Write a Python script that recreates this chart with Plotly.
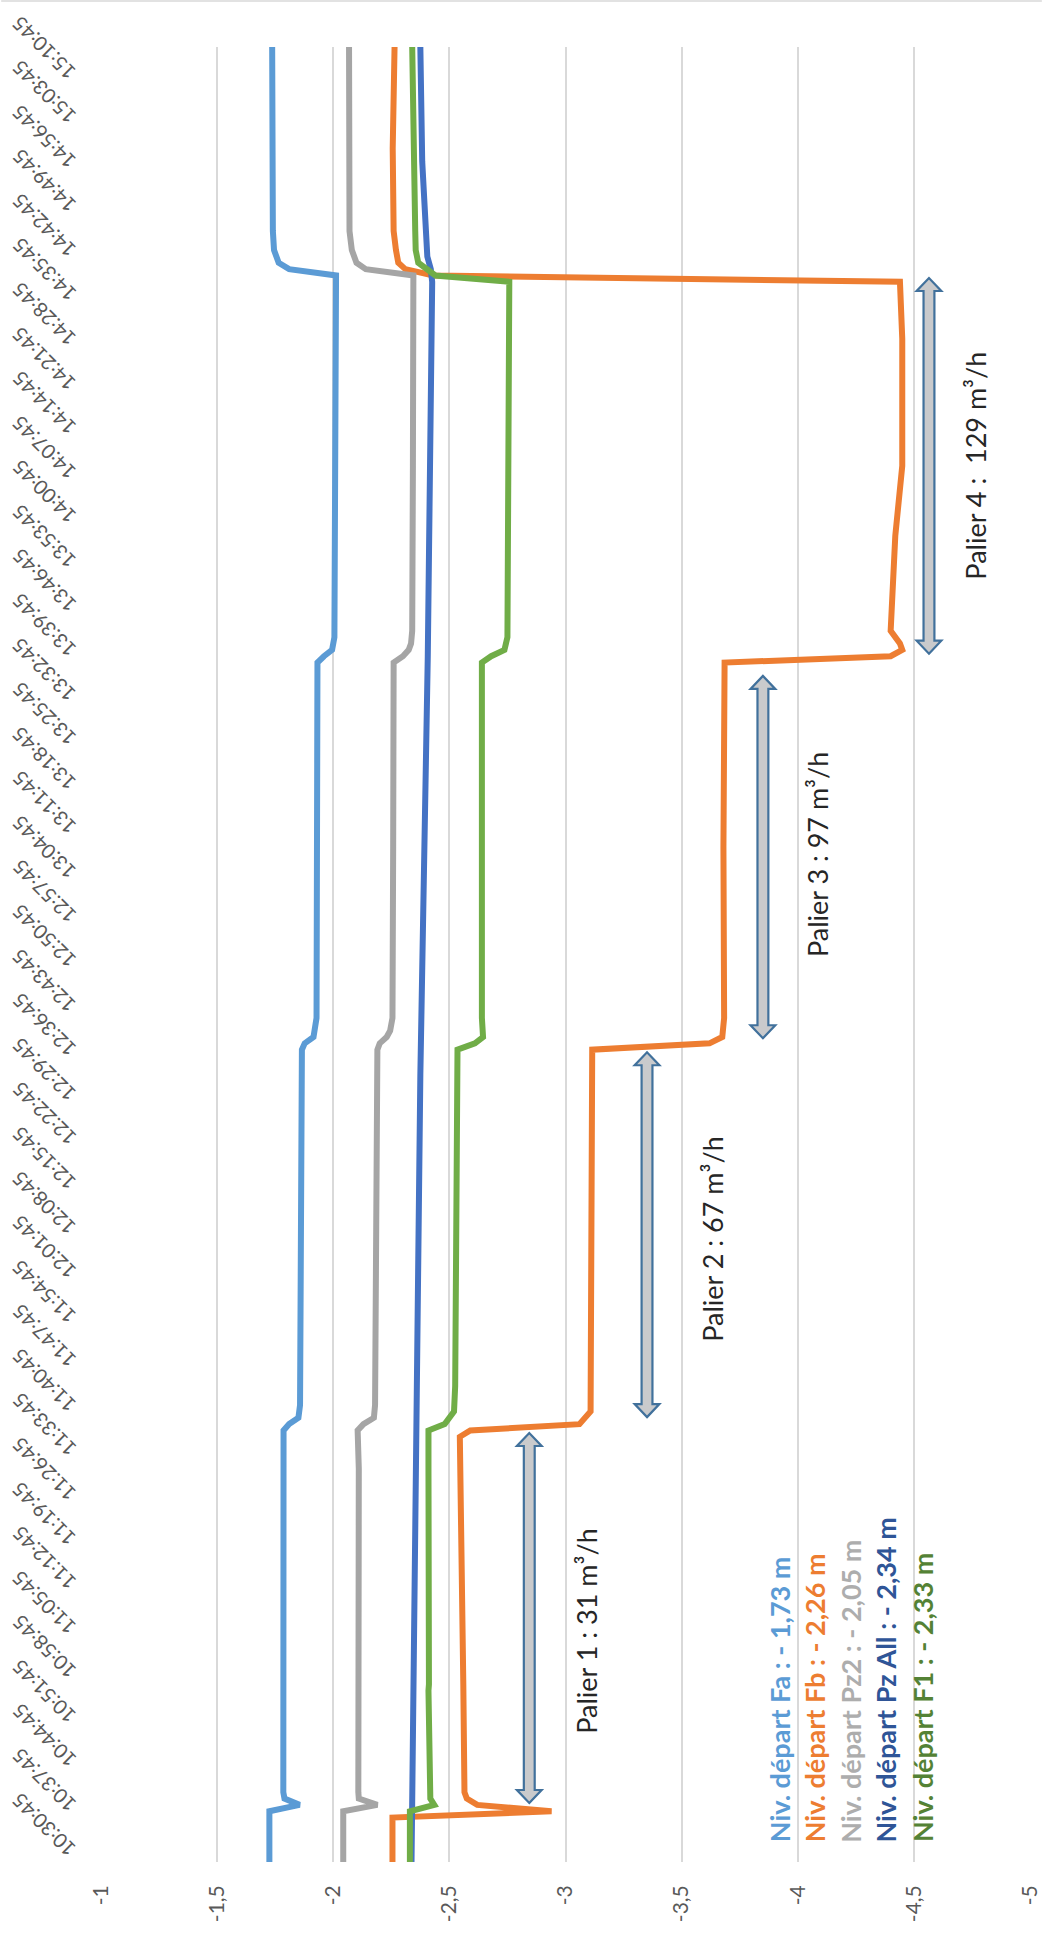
import plotly.graph_objects as go

# ---------------- data ----------------
time_ticks = ["10:30:45", "10:37:45", "10:44:45", "10:51:45", "10:58:45", "11:05:45", "11:12:45",
              "11:19:45", "11:26:45", "11:33:45", "11:40:45", "11:47:45", "11:54:45", "12:01:45",
              "12:08:45", "12:15:45", "12:22:45", "12:29:45", "12:36:45", "12:43:45", "12:50:45",
              "12:57:45", "13:04:45", "13:11:45", "13:18:45", "13:25:45", "13:32:45", "13:39:45",
              "13:46:45", "13:53:45", "14:00:45", "14:07:45", "14:14:45", "14:21:45", "14:28:45",
              "14:35:45", "14:42:45", "14:49:45", "14:56:45", "15:03:45", "15:10:45"]
time_end = "15:16:45"

level_ticks = [-1, -1.5, -2, -2.5, -3, -3.5, -4, -4.5, -5]
level_tick_text = ["-1", "-1,5", "-2", "-2,5", "-3", "-3,5", "-4", "-4,5", "-5"]

fa_time = ["10:30:45", "10:38:45", "10:39:45", "10:40:45", "10:41:45", "11:10:45", "11:32:45",
           "11:38:45", "11:39:45", "11:40:45", "11:42:45", "12:10:45", "12:34:45", "12:38:45",
           "12:39:45", "12:40:45", "12:43:45", "13:10:45", "13:39:45", "13:40:45", "13:41:45",
           "13:43:45", "14:10:45", "14:40:45", "14:41:45", "14:42:45", "14:44:45", "14:47:45",
           "15:16:45"]
fa_level = [-1.725, -1.725, -1.855, -1.79, -1.785, -1.783, -1.784,
            -1.786, -1.81, -1.85, -1.857, -1.862, -1.864, -1.865,
            -1.877, -1.915, -1.928, -1.93, -1.932, -1.96, -1.995,
            -2.005, -2.008, -2.012, -1.81, -1.765, -1.745, -1.74,
            -1.737]

fb_time = ["10:30:45", "10:37:45", "10:38:45", "10:39:45", "10:40:45", "10:41:45", "10:58:45",
           "11:32:45", "11:37:45", "11:38:45", "11:39:45", "11:41:45", "12:10:45", "12:38:45",
           "12:39:45", "12:40:45", "12:43:45", "13:10:45", "13:39:45", "13:40:45", "13:41:45",
           "13:42:45", "13:44:45", "13:59:45", "14:10:45", "14:30:45", "14:39:45", "14:40:45",
           "14:41:45", "14:42:45", "14:44:45", "14:47:45", "15:00:45", "15:16:45"]
fb_level = [-2.255, -2.255, -2.94, -2.62, -2.575, -2.565, -2.56,
            -2.55, -2.545, -2.59, -3.06, -3.108, -3.11, -3.115,
            -3.62, -3.675, -3.683, -3.68, -3.685, -4.40, -4.45,
            -4.44, -4.40, -4.42, -4.45, -4.45, -4.44, -2.43,
            -2.31, -2.28, -2.27, -2.26, -2.256, -2.264]

pz2_time = ["10:30:45", "10:38:45", "10:39:45", "10:40:45", "10:41:45", "11:03:45", "11:32:45",
            "11:38:45", "11:39:45", "11:40:45", "11:42:45", "12:10:45", "12:34:45", "12:38:45",
            "12:39:45", "12:40:45", "12:41:45", "12:43:45", "13:10:45", "13:39:45", "13:40:45",
            "13:41:45", "13:42:45", "13:44:45", "14:10:45", "14:40:45", "14:41:45", "14:42:45",
            "14:44:45", "14:47:45", "15:16:45"]
pz2_level = [-2.043, -2.043, -2.19, -2.11, -2.108, -2.11, -2.11,
             -2.105, -2.13, -2.175, -2.18, -2.185, -2.19, -2.19,
             -2.2, -2.23, -2.245, -2.255, -2.258, -2.26, -2.30,
             -2.325, -2.335, -2.34, -2.343, -2.345, -2.14, -2.10,
             -2.08, -2.07, -2.068]

pzall_time = ["10:30:45", "11:32:45", "12:34:45", "13:40:45", "14:39:45", "14:41:45", "14:43:45",
              "14:58:45", "15:16:45"]
pzall_level = [-2.337, -2.354, -2.375, -2.407, -2.426, -2.42, -2.405, -2.383, -2.375]

f1_time = ["10:30:45", "10:38:45", "10:39:45", "10:40:45", "10:57:45", "10:58:45", "11:32:45",
           "11:38:45", "11:39:45", "11:41:45", "11:45:45", "12:34:45", "12:38:45", "12:39:45",
           "12:40:45", "12:43:45", "13:39:45", "13:40:45", "13:41:45", "13:43:45", "14:10:45",
           "14:39:45", "14:40:45", "14:42:45", "14:44:45", "14:47:45", "15:16:45"]
f1_level = [-2.33, -2.33, -2.435, -2.418, -2.41, -2.412, -2.41,
            -2.41, -2.48, -2.52, -2.525, -2.535, -2.535, -2.61,
            -2.645, -2.64, -2.64, -2.68, -2.737, -2.75, -2.755,
            -2.758, -2.44, -2.366, -2.355, -2.353, -2.34]

series_names = ["Fa", "Fb", "Pz2", "Pz All", "F1"]
series_times = [fa_time, fb_time, pz2_time, pzall_time, f1_time]
series_levels = [fa_level, fb_level, pz2_level, pzall_level, f1_level]
series_colors = ["#5B9BD5", "#ED7D31", "#A5A5A5", "#4472C4", "#70AD47"]

legend_texts = ["Niv. départ Fa : - 1,73 m", "Niv. départ Fb : - 2,26 m", "Niv. départ Pz2 : - 2,05 m",
                "Niv. départ Pz All : - 2,34 m", "Niv. départ F1 : - 2,33 m"]
legend_colors = ["#5B9BD5", "#ED7D31", "#ADADAD", "#2F5597", "#548235"]

palier_labels = ["Palier 1 : 31 m³/h", "Palier 2 : 67 m³/h", "Palier 3 : 97 m³/h",
                 "Palier 4 :\u00a0 129 m³/h"]
palier_start = ["10:40:03", "11:40:51", "12:40:33", "13:41:09"]
palier_end = ["11:38:21", "12:38:21", "13:37:39", "14:40:21"]

# annotation placement (positions in axis units)
palier_arrow_level = [-2.844, -3.351, -3.85, -4.565]
palier_text_level = [-3.087, -3.632, -4.088, -4.765]
palier_text_time = ["11:07:09", "12:08:51", "13:09:27", "14:10:51"]
legend_text_level = [-3.922, -4.071, -4.224, -4.378, -4.535]
legend_text_time = "10:33:30"


def minutes(s):
    h, m, sec = (int(v) for v in s.split(":"))
    h0, m0, s0 = (int(v) for v in time_ticks[0].split(":"))
    return ((h * 3600 + m * 60 + sec) - (h0 * 3600 + m0 * 60 + s0)) / 60.0


# ---------------- layout geometry ----------------
W, H = 1053, 1936
ML, MR, MT, MB = 101, 12, 47, 74
PW, PH = W - ML - MR, H - MT - MB
X_RANGE = [-1, -5]
Y_RANGE = [0, minutes(time_end)]
px_per_x = PW / abs(X_RANGE[1] - X_RANGE[0])
px_per_y = PH / (Y_RANGE[1] - Y_RANGE[0])

FONT = "Lato"
fig = go.Figure()

for name, times, levels, color in zip(series_names, series_times, series_levels, series_colors):
    fig.add_trace(go.Scatter(
        x=levels, y=[minutes(t) for t in times], mode="lines", name=name,
        line=dict(color=color, width=6), showlegend=False, hoverinfo="skip"))

# double-headed block arrows
head_half, shaft_half, head_len = 12.5, 5.5, 13.0
for lvl, t0s, t1s in zip(palier_arrow_level, palier_start, palier_end):
    t0, t1 = minutes(t0s), minutes(t1s)
    dh, ds, dl = head_half / px_per_x, shaft_half / px_per_x, head_len / px_per_y
    pts = [(lvl, t0), (lvl - dh, t0 + dl), (lvl - ds, t0 + dl), (lvl - ds, t1 - dl),
           (lvl - dh, t1 - dl), (lvl, t1), (lvl + dh, t1 - dl), (lvl + ds, t1 - dl),
           (lvl + ds, t0 + dl), (lvl + dh, t0 + dl)]
    path = "M " + " L ".join(f"{x:.5f},{y:.4f}" for x, y in pts) + " Z"
    fig.add_shape(type="path", path=path, xref="x", yref="y",
                  fillcolor="#C9CACC", line=dict(color="#41719C", width=2.2), layer="above")

for lab, lvl, ts in zip(palier_labels, palier_text_level, palier_text_time):
    fig.add_annotation(x=lvl, y=minutes(ts), xref="x", yref="y", text=lab, textangle=-90,
                       showarrow=False, xanchor="center", yanchor="middle",
                       font=dict(family=FONT, size=27, color="#262626"))

for lab, lvl, col in zip(legend_texts, legend_text_level, legend_colors):
    fig.add_annotation(x=lvl, y=minutes(legend_text_time), xref="x", yref="y",
                       text="<b>" + lab + "</b>", textangle=-90, showarrow=False,
                       xanchor="center", yanchor="bottom",
                       font=dict(family=FONT, size=27, color=col))

# time labels (rotated, upside-down as in the source)
for lab in time_ticks:
    fig.add_annotation(x=0, xref="paper", y=minutes(lab), yref="y", text=lab,
                       textangle=-135, showarrow=False, xanchor="right", yanchor="bottom",
                       xshift=-18, yshift=-2,
                       font=dict(family=FONT, size=20, color="#595959"))

# chart border line at top
fig.add_shape(type="line", xref="paper", yref="paper",
              x0=-ML / PW, x1=(W - ML) / PW, y0=1 + (MT - 1) / PH, y1=1 + (MT - 1) / PH,
              line=dict(color="#D9D9D9", width=1.5))

fig.update_layout(
    width=W, height=H, margin=dict(l=ML, r=MR, t=MT, b=MB),
    paper_bgcolor="white", plot_bgcolor="white", showlegend=False,
    xaxis=dict(range=X_RANGE, tickvals=level_ticks, ticktext=level_tick_text, tickangle=-90,
               showgrid=True, gridcolor="#D9D9D9", gridwidth=2, zeroline=False,
               showline=False, ticks="", ticklabelstandoff=18,
               tickfont=dict(family=FONT, size=21, color="#595959")),
    yaxis=dict(range=Y_RANGE, showgrid=False, showticklabels=False, zeroline=False,
               showline=False, ticks=""),
)

fig.write_html("out.html", config={"displayModeBar": False},
               post_script="document.body.style.margin='0';"
                           "document.body.style.overflow='hidden';")
